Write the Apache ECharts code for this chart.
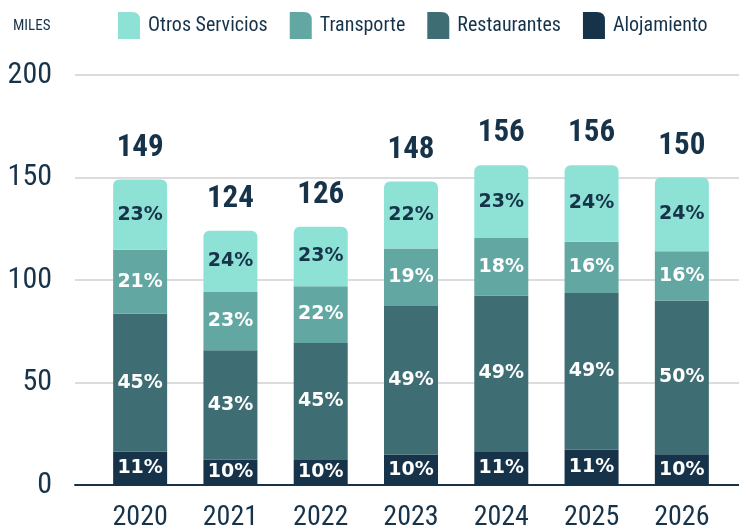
<!DOCTYPE html>
<html>
<head>
<meta charset="utf-8">
<script src="https://cdn.jsdelivr.net/npm/echarts@6/dist/echarts.min.js"></script>
<style>
  html, body { margin: 0; padding: 0; background: #fff; }
  #chart { width: 739px; height: 526px; }
</style>
</head>
<body>
<div id="chart"></div>
<script>
// datos (miles)
const years = ["2020", "2021", "2022", "2023", "2024", "2025", "2026"];
const totals = [149, 124, 126, 148, 156, 156, 150];

const alojamiento = [16.4, 12.4, 12.6, 14.8, 16.5, 17.2, 15.0];
const restaurantes = [67.1, 53.3, 56.7, 72.5, 76.0, 76.4, 75.0];
const transporte = [31.3, 28.5, 27.7, 28.1, 28.0, 25.0, 24.0];
const otros = [34.2, 29.8, 29.0, 32.6, 35.5, 37.4, 36.0];

// porcentajes mostrados dentro de las barras
const pctAlojamiento = [11, 10, 10, 10, 11, 11, 10];
const pctRestaurantes = [45, 43, 45, 49, 49, 49, 50];
const pctTransporte = [21, 23, 22, 19, 18, 16, 16];
const pctOtros = [23, 24, 23, 22, 23, 24, 24];

const yTicks = [0, 50, 100, 150, 200];

const DARK = "#17334a";
const NARROW = "'Liberation Sans Narrow', 'Roboto Condensed', 'DejaVu Sans Condensed', sans-serif";
const LEGEND_ICON = "path://M0,0 L14,0 Q22,0 22,8 L22,27 L0,27 Z";

const chart = echarts.init(document.getElementById("chart"));

function barSeries(name, data, pct, color, labelColor, radius) {
  return {
    name: name,
    type: "bar",
    stack: "total",
    xAxisIndex: 1,
    yAxisIndex: 1,
    barWidth: 54,
    data: data,
    itemStyle: { color: color, borderRadius: radius || 0 },
    label: {
      show: true,
      position: "inside",
      color: labelColor,
      fontFamily: "DejaVu Sans",
      fontWeight: "bold",
      fontSize: 19,
      formatter: (p) => pct[p.dataIndex] + "%"
    },
    emphasis: { disabled: true }
  };
}

chart.setOption({
  animation: false,
  title: {
    text: "MILES",
    left: 8,
    top: 14,
    textStyle: { fontFamily: NARROW, fontSize: 15, fontWeight: "normal", color: DARK }
  },
  legend: {
    data: ["Otros Servicios", "Transporte", "Restaurantes", "Alojamiento"],
    left: 113,
    top: 7,
    icon: LEGEND_ICON,
    itemWidth: 22,
    itemHeight: 27,
    itemGap: 22,
    selectedMode: false,
    textStyle: { fontFamily: NARROW, fontSize: 20, color: DARK, padding: [0, 0, 0, 3] }
  },
  grid: [
    // rejilla de fondo (líneas y eje y)
    { left: 75, right: 0, top: 75, bottom: 41, outerBoundsMode: "none" },
    // barras
    { left: 95, right: 12, top: 75, bottom: 41, outerBoundsMode: "none" }
  ],
  xAxis: [
    {
      type: "value",
      gridIndex: 0,
      min: 0,
      max: 1,
      axisLine: { show: true, lineStyle: { color: DARK, width: 2 } },
      axisTick: { show: false },
      axisLabel: { show: false },
      splitLine: { show: false }
    },
    {
      type: "category",
      gridIndex: 1,
      data: years,
      axisLine: { show: false },
      axisTick: { show: false },
      axisLabel: { fontFamily: NARROW, fontSize: 28, color: DARK, margin: 19 }
    }
  ],
  yAxis: [
    {
      type: "value",
      gridIndex: 0,
      min: yTicks[0],
      max: yTicks[yTicks.length - 1],
      interval: 50,
      axisLine: { show: false },
      axisTick: { show: false },
      axisLabel: {
        fontFamily: NARROW,
        fontSize: 30,
        color: DARK,
        margin: 23,
        verticalAlign: "middle",
        padding: [0, 0, 26, 0]
      },
      splitLine: { lineStyle: { color: "#dcdcdc", width: 2 } }
    },
    {
      type: "value",
      gridIndex: 1,
      min: 0,
      max: 200,
      show: false,
      splitLine: { show: false }
    }
  ],
  series: [
    barSeries("Alojamiento", alojamiento, pctAlojamiento, "#17334a", "#ffffff"),
    barSeries("Restaurantes", restaurantes, pctRestaurantes, "#3e6d73", "#ffffff"),
    barSeries("Transporte", transporte, pctTransporte, "#62a7a2", "#ffffff"),
    barSeries("Otros Servicios", otros, pctOtros, "#8de2d5", DARK, [6, 6, 0, 0]),
    {
      // totales sobre cada barra
      type: "scatter",
      xAxisIndex: 1,
      yAxisIndex: 1,
      data: totals,
      symbolSize: 0,
      z: 5,
      itemStyle: { opacity: 1 },
      label: {
        show: true,
        position: "top",
        distance: 16,
        fontFamily: NARROW,
        fontWeight: "bold",
        fontSize: 31,
        color: DARK
      },
      emphasis: { disabled: true }
    }
  ]
});
</script>
</body>
</html>
